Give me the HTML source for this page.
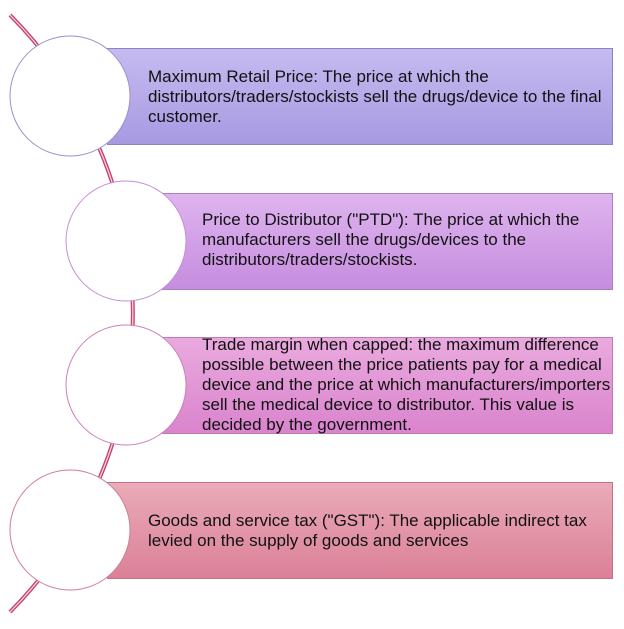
<!DOCTYPE html>
<html><head><style>
body{margin:0;width:624px;height:629px;background:#fff;overflow:hidden;position:relative;font-family:"Liberation Sans",sans-serif;}
.r{position:absolute;box-sizing:border-box;border:1px solid #8a7fb8;}
.t{position:absolute;font-size:17px;line-height:20px;color:#111;white-space:nowrap;}
</style></head><body>
<svg width="624" height="629" style="position:absolute;left:0;top:0">
<path d="M10,15 A424,424 0 0 1 10,612" fill="none" stroke="#c8446e" stroke-width="4"/>
<path d="M10,15 A424,424 0 0 1 10,612" fill="none" stroke="#f6d8e2" stroke-width="1.2"/>
</svg>
<div class="r" style="left:107px;top:48px;width:506px;height:97px;background:linear-gradient(#c6bbf0,#a79ae2);border-color:#8d82c6"></div>
<div class="r" style="left:162px;top:193px;width:451px;height:97px;background:linear-gradient(#deb4ee,#c68ddf);border-color:#a780c0"></div>
<div class="r" style="left:162px;top:337px;width:451px;height:97px;background:linear-gradient(#eaaade,#da84cd);border-color:#c07ab3"></div>
<div class="r" style="left:107px;top:482px;width:506px;height:97px;background:linear-gradient(#eaabb8,#db8098);border-color:#c07488"></div>
<svg width="624" height="629" style="position:absolute;left:0;top:0">
<circle cx="70" cy="96" r="60" fill="#fff" stroke="#9a8fd0" stroke-width="1"/>
<circle cx="126" cy="241" r="60" fill="#fff" stroke="#c38fd6" stroke-width="1"/>
<circle cx="126" cy="385" r="60" fill="#fff" stroke="#d07dbb" stroke-width="1"/>
<circle cx="70" cy="530" r="60" fill="#fff" stroke="#d07d92" stroke-width="1"/>
</svg>
<div class="t" style="left:148px;top:67px">Maximum Retail Price: The price at which the<br>distributors/traders/stockists sell the drugs/device to the final<br>customer.</div>
<div class="t" style="left:202px;top:210px">Price to Distributor ("PTD"): The price at which the<br>manufacturers sell the drugs/devices to the<br>distributors/traders/stockists.</div>
<div class="t" style="left:202px;top:335px">Trade margin when capped: the maximum difference<br>possible between the price patients pay for a medical<br>device and the price at which manufacturers/importers<br>sell the medical device to distributor. This value is<br>decided by the government.</div>
<div class="t" style="left:148px;top:511px">Goods and service tax ("GST"): The applicable indirect tax<br>levied on the supply of goods and services</div>
</body></html>
